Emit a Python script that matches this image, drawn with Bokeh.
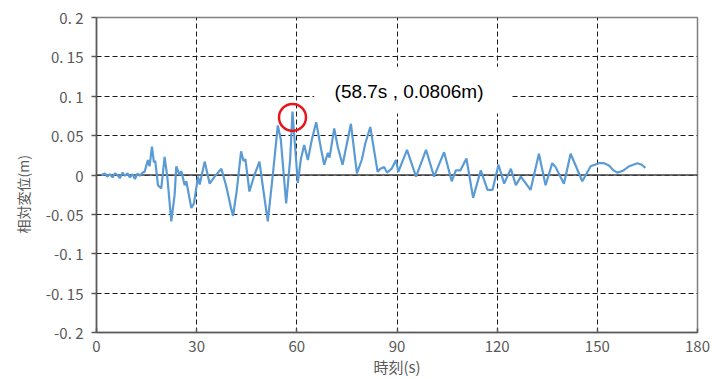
from bokeh.embed import file_html
from bokeh.models import BoxAnnotation, FixedTicker, Label, Span, Title
from bokeh.plotting import figure
from bokeh.resources import INLINE

# Relative displacement time history (seconds, metres)
time_s = [
    1.5, 2.5, 3.2, 4.0, 4.8, 5.5, 6.3, 7.0, 7.8, 8.5, 9.3, 10.0, 10.8, 11.5,
    12.3, 13.0, 13.8, 14.4, 15.4, 15.9, 16.6, 17.2, 17.6, 18.4, 19.4, 20.4,
    21.2, 22.4, 23.4, 23.9, 24.9, 25.4, 26.4, 26.9, 28.4, 29.2, 30.4, 30.9,
    32.4, 33.9, 35.2, 37.4, 38.9, 40.4, 40.9, 42.0, 43.3, 44.0, 44.6, 45.8,
    47.3, 48.8, 50.0, 51.3, 52.8, 54.3, 55.2, 56.8, 58.0, 58.7, 59.4, 60.3,
    61.2, 62.2, 63.3, 64.5, 65.8, 67.3, 68.2, 69.3, 69.8, 71.2, 72.3, 73.7,
    76.2, 78.0, 79.5, 80.5, 82.0, 84.2, 85.0, 86.2, 87.0, 88.4, 89.7, 90.4,
    93.0, 95.7, 98.7, 101.1, 104.1, 106.4, 107.6, 109.0, 110.8, 112.8, 115.1,
    117.1, 118.6, 120.4, 122.1, 124.1, 125.6, 127.1, 130.0, 132.5, 134.5,
    136.5, 137.5, 140.0, 142.0, 145.5, 148.0, 150.5, 152.0, 153.5, 154.8,
    156.0, 157.5, 159.5, 162.0, 163.3, 164.4,
]
disp_m = [
    0.0, 0.002, -0.002, 0.001, -0.003, 0.002, 0.0, -0.004, 0.003, -0.001,
    0.002, -0.003, 0.001, -0.005, 0.002, -0.001, 0.003, 0.004, 0.019, 0.011,
    0.036, 0.016, 0.018, -0.013, -0.017, 0.023, -0.002, -0.059, -0.025, 0.011,
    0.0, 0.005, -0.013, -0.008, -0.042, -0.036, -0.002, -0.012, 0.017, -0.011,
    -0.003, 0.008, -0.015, -0.044, -0.052, -0.020, 0.030, 0.018, 0.020, -0.021,
    0.0, 0.017, -0.020, -0.059, 0.0, 0.063, 0.045, -0.036, 0.020, 0.0806,
    0.040, -0.010, 0.020, 0.038, 0.019, 0.045, 0.067, 0.032, 0.013, 0.028,
    0.022, 0.059, 0.035, 0.013, 0.065, 0.002, 0.020, 0.040, 0.061, 0.004,
    0.008, 0.010, 0.003, 0.008, 0.019, 0.004, 0.032, -0.002, 0.032, -0.002,
    0.029, -0.008, 0.006, 0.006, 0.021, -0.029, 0.006, -0.019, -0.019, 0.013,
    -0.011, 0.008, -0.013, -0.002, -0.019, 0.027, -0.013, 0.015, 0.010,
    -0.011, 0.027, -0.008, 0.011, 0.015, 0.015, 0.012, 0.006,
    0.003, 0.005, 0.011, 0.015, 0.013, 0.009,
]

x_ticks = [0, 30, 60, 90, 120, 150, 180]
y_ticks = [-0.2, -0.15, -0.1, -0.05, 0, 0.05, 0.1, 0.15, 0.2]
y_tick_labels = ["-0.\u00a02", "-0.\u00a015", "-0.\u00a01", "-0.\u00a005", "0",
                 "0.\u00a005", "0.\u00a01", "0.\u00a015", "0.\u00a02"]

peak_time = 58.7
peak_disp = 0.0806
peak_text = "(58.7s , 0.0806m)"

x_title = "時刻(s)"
y_title = "相対変位(m)"

AXIS_GREY = "#595959"
GRID_DARK = "#1a1a1a"
LINE_BLUE = "#5b9bd5"
JP_FONT = "Noto Sans CJK JP"

p = figure(
    width=712, height=379,
    x_range=(0, 180), y_range=(-0.2, 0.2),
    output_backend="svg", toolbar_location=None,
    min_border_left=95, min_border_right=15,
    min_border_top=17, min_border_bottom=45,
    background_fill_color="white", border_fill_color="white",
)

p.outline_line_color = "#808080"
p.outline_line_width = 1.5

# dashed grid on every tick
p.xaxis.ticker = FixedTicker(ticks=x_ticks)
p.yaxis.ticker = FixedTicker(ticks=y_ticks)
for g in (p.xgrid, p.ygrid):
    g.grid_line_color = GRID_DARK
    g.grid_line_dash = "5 3"
    g.grid_line_width = 1
p.xgrid.ticker = FixedTicker(ticks=x_ticks)
p.ygrid.ticker = FixedTicker(ticks=y_ticks)

# y tick labels written as "0. 05", "-0. 1" ...
p.yaxis.major_label_overrides = dict(zip(y_ticks, y_tick_labels))

for ax in (p.xaxis, p.yaxis):
    ax.axis_line_color = AXIS_GREY
    ax.axis_line_width = 1.5
    ax.major_tick_line_color = AXIS_GREY
    ax.major_tick_line_width = 1.5
    ax.minor_tick_line_color = None
    ax.major_label_text_font = JP_FONT
    ax.major_label_text_font_size = "15px"
    ax.major_label_text_color = AXIS_GREY

p.xaxis.major_tick_in = 4
p.xaxis.major_tick_out = 0
p.xaxis.major_label_standoff = 8
p.yaxis.major_tick_in = 0
p.yaxis.major_tick_out = 5
p.yaxis.major_label_standoff = 8

# x title under the tick labels
p.xaxis.axis_label = x_title
p.xaxis.axis_label_text_font = JP_FONT
p.xaxis.axis_label_text_font_size = "15px"
p.xaxis.axis_label_text_font_style = "normal"
p.xaxis.axis_label_text_color = AXIS_GREY
p.xaxis.axis_label_standoff = 1

# y title, anchored from the bottom of the frame
p.add_layout(Title(text=y_title, align="left", offset=99, standoff=20,
                   text_font=JP_FONT, text_font_size="14px",
                   text_font_style="normal", text_color=AXIS_GREY), "left")

# zero reference line
p.add_layout(Span(location=0, dimension="width", line_color="#404040",
                  line_width=1.5, level="underlay"))

p.line(time_s, disp_m, line_color=LINE_BLUE, line_width=2.2)

# peak marker and its caption
p.scatter([peak_time], [peak_disp - 0.0075], marker="circle", size=27,
          fill_color=None, line_color="#e8161b", line_width=2.5)
p.add_layout(BoxAnnotation(left=65.2, right=124.1, bottom=0.078, top=0.1376,
                           fill_color="white", fill_alpha=1.0, line_color=None))
p.add_layout(Label(x=93.6, y=0.1054, text=peak_text, text_font="Liberation Sans",
                   text_font_size="19px", text_color="black",
                   text_align="center", text_baseline="middle"))

open("out.html", "w").write(file_html(p, INLINE))
